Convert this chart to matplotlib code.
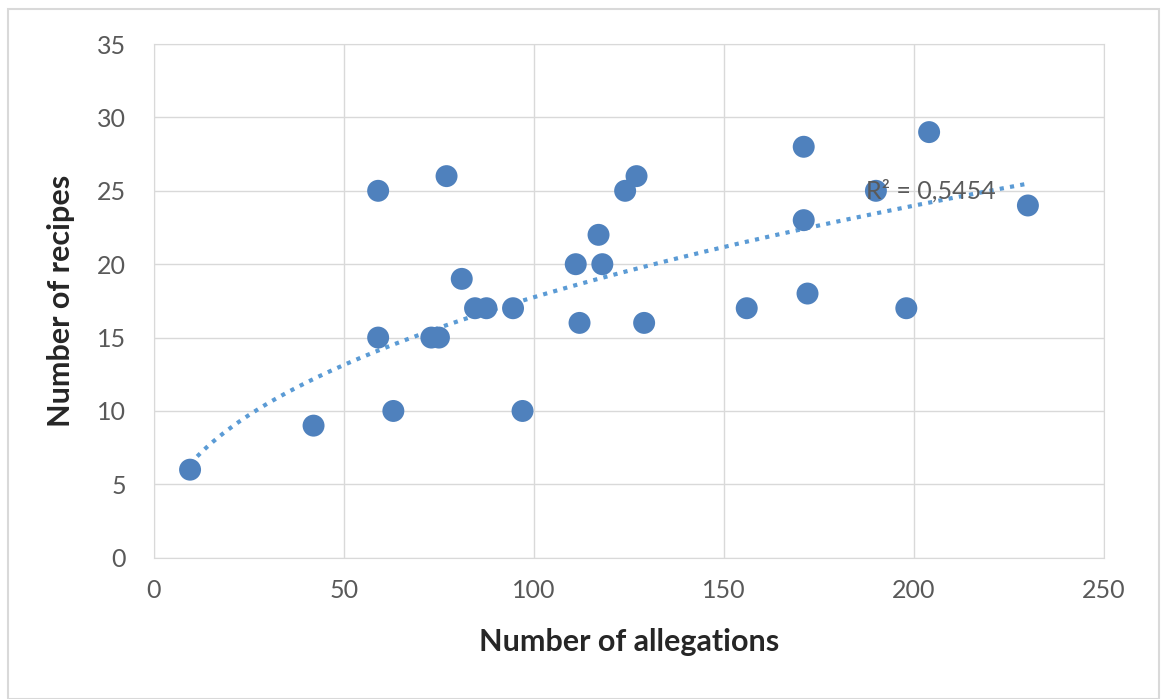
import numpy as np
import matplotlib.pyplot as plt
from matplotlib.patches import Rectangle

# data
allegations = [9.5, 42, 59, 59, 63, 77, 73, 75, 81, 84.5, 87.5, 94.5, 97,
               111, 112, 117, 118, 124, 127, 129, 156, 171, 171, 172, 190,
               198, 204, 230]
recipes = [6, 9, 25, 15, 10, 26, 15, 15, 19, 17, 17, 17, 10,
           20, 16, 22, 20, 25, 26, 16, 17, 28, 23, 18, 25,
           17, 29, 24]
r2_label = "R² = 0,5454"

x = np.array(allegations)
y = np.array(recipes)

# power trend line, fitted in log-log space like excel
p, c = np.polyfit(np.log(x), np.log(y), 1)
xt = np.linspace(x.min(), x.max(), 300)
yt = np.exp(c) * xt ** p

plt.rcParams['font.family'] = ['Lato', 'DejaVu Sans']

fig = plt.figure(figsize=(11.62, 6.99), dpi=100)
ax = fig.add_axes([0.1325, 0.2021, 0.8175, 0.7349])

ax.scatter(x, y, s=250, color="#4f81bd", edgecolors="none", zorder=3)
ax.plot(xt, yt, color="#5b9bd5", linestyle=(0, (1, 1.5)), linewidth=3, zorder=2)
ax.text(187.3, 25, r2_label, fontsize=18, color="#5a5a5a", va="center", zorder=4)

ax.set_xlim(0, 250)
ax.set_ylim(0, 35)
ax.set_xticks(range(0, 251, 50))
ax.set_yticks(range(0, 36, 5))
ax.grid(True, color="#d9d9d9", linewidth=1)
ax.set_axisbelow(True)
for s in ax.spines.values():
    s.set_color("#d9d9d9")
ax.tick_params(length=0, labelsize=18, labelcolor="#595959")
ax.tick_params(axis="x", pad=15)
ax.tick_params(axis="y", pad=20)

ax.set_xlabel("Number of allegations", fontsize=22, fontweight="bold",
              color="#262626", labelpad=19)
ax.set_ylabel("Number of recipes", fontsize=22, fontweight="bold",
              color="#262626", labelpad=16)

# outer frame
fig.patches.append(Rectangle((0.007, 0.0), 0.99, 0.987, transform=fig.transFigure,
                             fill=False, edgecolor="#d9d9d9", linewidth=1.5))

fig.savefig("out.png", dpi=100)
